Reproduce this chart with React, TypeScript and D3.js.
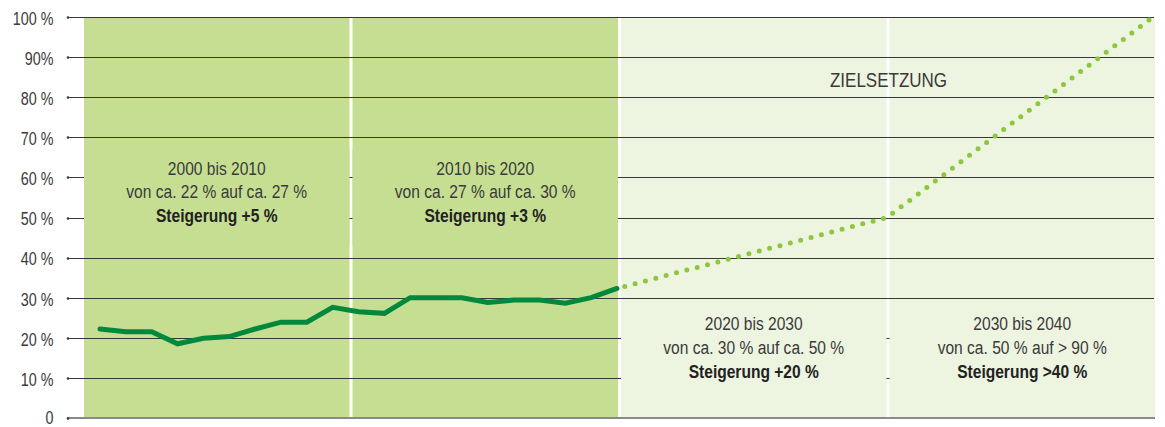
import React from "react";
import * as d3 from "d3";

const W = 1165;
const H = 427;

// Measured share (%) 2000–2020
const years = [2000, 2001, 2002, 2003, 2004, 2005, 2006, 2007, 2008, 2009, 2010, 2011, 2012, 2013, 2014, 2015, 2016, 2017, 2018, 2019, 2020];
const values = [22.2, 21.5, 21.5, 18.5, 19.9, 20.3, 22.2, 23.9, 23.9, 27.6, 26.5, 26.1, 30.0, 30.0, 30.0, 28.8, 29.4, 29.4, 28.6, 30.0, 32.3];

// Target path (Zielsetzung)
const targetYears = [2020, 2030, 2040];
const targetValues = [32.3, 50, 100];

// Decade panels
const decades = ["2000", "2010", "2020", "2030"];
const panelKind = ["past", "past", "goal", "goal"];
const panelLine1 = ["2000 bis 2010", "2010 bis 2020", "2020 bis 2030", "2030 bis 2040"];
const panelLine2 = ["von ca. 22 % auf ca. 27 %", "von ca. 27 % auf ca. 30 %", "von ca. 30 % auf ca. 50 %", "von ca. 50 % auf > 90 %"];
const panelLine3 = ["Steigerung +5 %", "Steigerung +3 %", "Steigerung +20 %", "Steigerung >40 %"];

// Y axis
const yTicks = [0, 10, 20, 30, 40, 50, 60, 70, 80, 90, 100];
const yTickLabels = ["0", "10 %", "20 %", "30 %", "40 %", "50 %", "60 %", "70 %", "80 %", "90%", "100 %"];

const goalTitle = "ZIELSETZUNG";

const FONT = "'Liberation Sans', Arial, sans-serif";
const DARK_PANEL = "#c6de92";
const LIGHT_PANEL = "#edf4e0";
const LINE_GREEN = "#00893d";
const DOT_GREEN = "#8dc63f";
const GRID = "#383838";
const TEXT = "#3a3a3a";

function CText(props: {
  x: number;
  y: number;
  anchor: "start" | "middle" | "end";
  size: number;
  fill: string;
  sx: number;
  weight?: string;
  children: React.ReactNode;
}) {
  return (
    <g transform={`translate(${props.x},${props.y}) scale(${props.sx},1)`}>
      <text
        x={0}
        y={0}
        textAnchor={props.anchor}
        fontSize={props.size}
        fill={props.fill}
        fontWeight={props.weight || "normal"}
      >
        {props.children}
      </text>
    </g>
  );
}

export default function App() {
  const y = d3.scaleLinear().domain([0, 100]).range([418, 17]);
  const gridX0 = 67;
  const panels = d3.scaleBand<string>().domain(decades).range([84, 1155]).paddingInner(12 / 1074).paddingOuter(0);
  const x = d3.scaleLinear().domain([2000, 2020, 2030, 2040]).range([100, 617, 887, 1153]);

  const line = d3
    .line<number>()
    .x((_, i) => x(years[i]))
    .y((v) => y(v));
  const targetLine = d3
    .line<number>()
    .x((_, i) => x(targetYears[i]))
    .y((v) => y(v));

  const bw = panels.bandwidth();
  const gridEnd = 1154;

  return (
    <svg
      width={W}
      height={H}
      style={{ position: "absolute", left: 0, top: 0, display: "block", background: "#fff" }}
      fontFamily={FONT}
    >
      {/* panels */}
      {decades.map((d, i) => (
        <rect
          key={"p" + d}
          x={panels(d)}
          y={y(100)}
          width={bw}
          height={y(0) - y(100)}
          fill={panelKind[i] === "past" ? DARK_PANEL : LIGHT_PANEL}
        />
      ))}

      {/* grid lines */}
      {yTicks.map((t) =>
        t === 0 ? null : (
          <line
            key={"g" + t}
            x1={gridX0}
            x2={gridEnd}
            y1={Math.round(y(t)) + 0.5}
            y2={Math.round(y(t)) + 0.5}
            stroke={GRID}
            strokeWidth={1.1}
          />
        )
      )}
      <line x1={gridX0} x2={gridEnd + 1} y1={y(0)} y2={y(0)} stroke="#8a8a8a" strokeWidth={2} />
      {yTicks.map((t) => (
        <circle key={"c" + t} cx={gridX0 + 1} cy={Math.round(y(t)) + 0.5} r={1.3} fill={GRID} />
      ))}

      {/* text boxes covering grid lines */}
      {decades.map((d, i) => {
        const past = panelKind[i] === "past";
        const top = past ? y(67) : y(27);
        const bottom = past ? y(43) : y(3);
        return (
          <rect
            key={"b" + d}
            x={panels(d)}
            y={top}
            width={bw}
            height={bottom - top}
            fill={past ? DARK_PANEL : LIGHT_PANEL}
          />
        );
      })}

      {/* y axis labels */}
      {yTicks.map((t, i) => (
        <CText key={"l" + t} x={53.5} y={Math.min(y(t) + 7.8, 424)} anchor="end" size={17.5} sx={0.82} fill={TEXT}>
          {yTickLabels[i]}
        </CText>
      ))}

      {/* panel texts */}
      {decades.map((d, i) => {
        const cx = (panels(d) as number) + bw / 2;
        const past = panelKind[i] === "past";
        const b1 = past ? 174.5 : 329.5;
        const step = past ? 23.7 : 24.4;
        return (
          <g key={"t" + d}>
            <CText x={cx} y={b1} anchor="middle" size={19} sx={0.82} fill={TEXT}>
              {panelLine1[i]}
            </CText>
            <CText x={cx} y={b1 + step} anchor="middle" size={19} sx={0.82} fill={TEXT}>
              {panelLine2[i]}
            </CText>
            <CText x={cx} y={b1 + 2 * step} anchor="middle" size={19} sx={0.82} fill="#222" weight="bold">
              {panelLine3[i]}
            </CText>
          </g>
        );
      })}

      {/* Zielsetzung title */}
      <CText x={888.5} y={86.7} anchor="middle" size={21} sx={0.81} fill={TEXT}>
        {goalTitle}
      </CText>

      {/* target dotted line */}
      <path
        d={targetLine(targetValues) || ""}
        fill="none"
        stroke={DOT_GREEN}
        strokeWidth={5}
        strokeLinecap="round"
        strokeDasharray="0 10.7"
        strokeDashoffset={2.7}
      />

      {/* measured line */}
      <path
        d={line(values) || ""}
        fill="none"
        stroke={LINE_GREEN}
        strokeWidth={5}
        strokeLinejoin="miter"
        strokeLinecap="round"
      />
    </svg>
  );
}
